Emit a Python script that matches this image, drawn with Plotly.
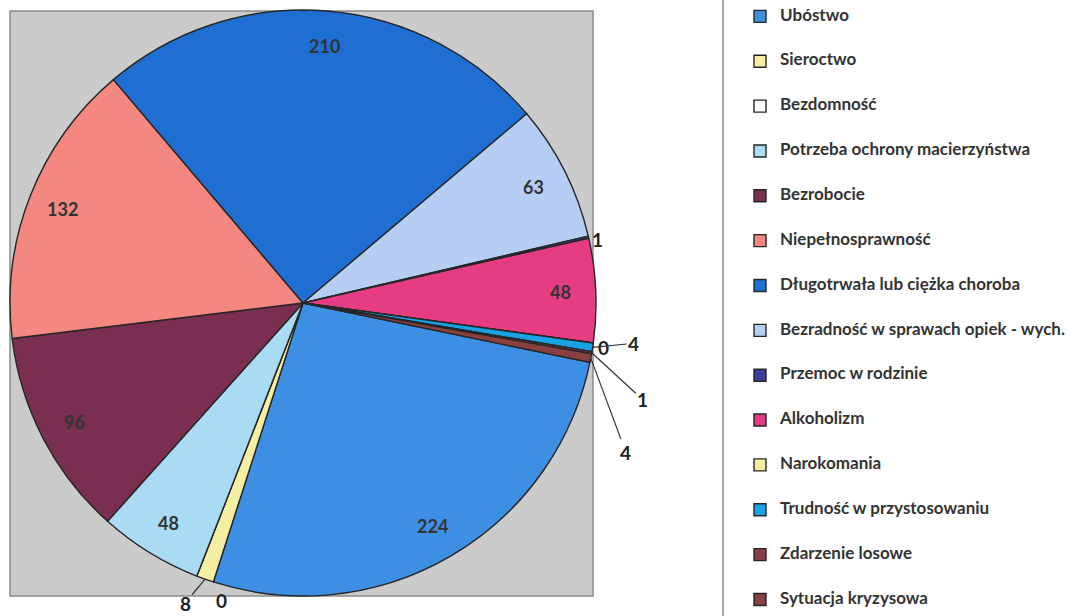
import math
import plotly.graph_objects as go

# ---- data ----
categories = [
    "Ubóstwo", "Sieroctwo", "Bezdomność", "Potrzeba ochrony macierzyństwa",
    "Bezrobocie", "Niepełnosprawność", "Długotrwała lub ciężka choroba",
    "Bezradność w sprawach opiek - wych.", "Przemoc w rodzinie", "Alkoholizm",
    "Narokomania", "Trudność w przystosowaniu", "Zdarzenie losowe",
    "Sytuacja kryzysowa",
]
values = [224, 8, 0, 48, 96, 132, 210, 63, 1, 48, 0, 4, 1, 4]
colors = [
    "#3d8fe4", "#f6eea2", "#ffffff", "#a9dcf4", "#7a2f50", "#f4877f",
    "#1f6fd2", "#b7cef4", "#3b3f9a", "#e63c82", "#f5f0a0", "#18a4e4",
    "#8b3a4a", "#8a4040",
]

# ---- layout constants ----
W, H = 1087, 616
CX, CY, R = 303, 303, 293          # pie centre / radius in pixels
ROT = 101.7                        # start angle (deg clockwise from 12 o'clock)
total = sum(values)

def to_paper(px, py):
    return px / W, (H - py) / H

def point(angle_deg, r):
    a = math.radians(angle_deg)
    return CX + r * math.sin(a), CY - r * math.cos(a)

# legend labels: pad with blank lines so entries are spaced like the original
legend_labels = [" <br><span style='font-size:17px'><b>%s</b></span><br> " % c for c in categories]

fig = go.Figure(go.Pie(
    labels=legend_labels,
    values=values,
    sort=False,
    direction="clockwise",
    rotation=ROT,
    marker=dict(colors=colors, line=dict(color="#262626", width=1.4)),
    textinfo="none",
    hoverinfo="skip",
    domain=dict(x=[(CX - R) / W, (CX + R) / W], y=[(H - CY - R) / H, (H - CY + R) / H]),
))

annotations = []
cum = 0
mids = []
for v in values:
    mids.append(ROT + 360 * (cum + v / 2) / total)
    cum += v

lab_font = dict(family="Lato", size=18, color="#333333", weight="bold")
out_font = dict(family="Lato", size=19, color="#222222", weight="bold")

# inside-end labels for the big slices
for v, m in zip(values, mids):
    if v >= 20:
        px, py = point(m, 0.88 * R)
        x, y = to_paper(px, py)
        annotations.append(dict(x=x, y=y, xref="paper", yref="paper", text=str(v),
                                xanchor="center", yanchor="middle",
                                showarrow=False, font=lab_font))

# outside labels for the small slices (pixel offsets from the slice edge)
offsets = {
    # index: (leader line, dx, dy)
    1: (True, -20, 24),
    2: (False, 25, 24),
    8: (False, 9, 2),
    10: (False, 10, 5),
    11: (True, 41, -4),
    12: (True, 51, 47),
    13: (True, 35, 94),
}
for i, (arrow, dx, dy) in offsets.items():
    px, py = point(mids[i], R)
    x, y = to_paper(px, py)
    if arrow:
        annotations.append(dict(x=x, y=y, xref="paper", yref="paper", text=str(values[i]),
                                showarrow=True, arrowhead=0, arrowwidth=1.2,
                                arrowcolor="#333333", ax=dx, ay=dy, font=out_font,
                                standoff=0, startstandoff=0))
    else:
        annotations.append(dict(x=x, y=y, xref="paper", yref="paper", text=str(values[i]),
                                xanchor="center", yanchor="middle",
                                showarrow=False, xshift=dx, yshift=-dy, font=out_font))

gx0, gy0 = to_paper(10, 596)
gx1, gy1 = to_paper(593, 11)
lx, _ = to_paper(723, 0)

fig.update_layout(
    width=W, height=H,
    margin=dict(l=0, r=0, t=0, b=0, autoexpand=False),
    paper_bgcolor="white",
    showlegend=True,
    legend=dict(
        x=740 / W, xanchor="left", y=1 + 11 / H, yanchor="top",
        maxheight=2000,
        font=dict(family="Lato", size=10.73, color="#333333", weight="bold"),
        bgcolor="rgba(0,0,0,0)", traceorder="normal",
    ),
    shapes=[
        dict(type="rect", xref="paper", yref="paper", x0=gx0, x1=gx1, y0=gy0, y1=gy1,
             fillcolor="#cbcbcb", line=dict(color="#8a8a8a", width=1.5), layer="below"),
        dict(type="line", xref="paper", yref="paper", x0=lx, x1=lx, y0=0, y1=1,
             line=dict(color="#888888", width=1.5)),
    ],
    annotations=annotations,
)

fig.write_html("out.html", config={"displayModeBar": False},
               post_script="document.body.style.margin='0px';")
